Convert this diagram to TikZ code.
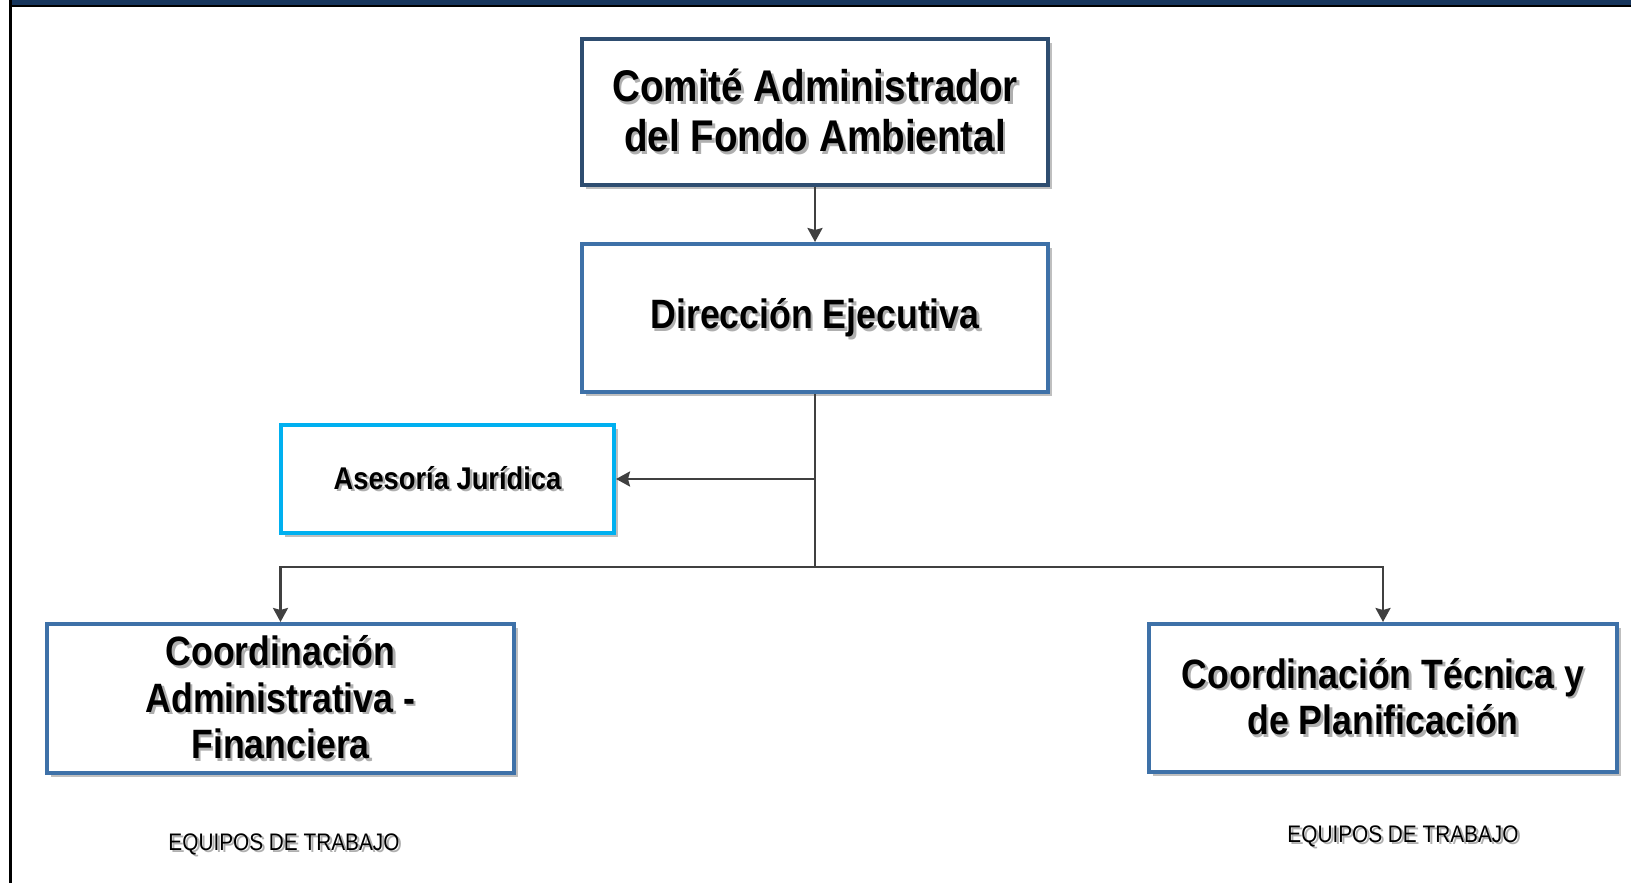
\documentclass[tikz,border=0pt]{standalone}
\usepackage{fontspec}
\setmainfont{Liberation Sans}
\newfontfamily\boxfont[FakeStretch=0.87]{Liberation Sans}
\usetikzlibrary{arrows.meta,shadows}

\definecolor{bandnavy}{RGB}{23,54,93}
\definecolor{topblue}{RGB}{46,77,112}
\definecolor{unitblue}{RGB}{62,113,168}
\definecolor{advcyan}{RGB}{0,176,240}
\definecolor{conngray}{RGB}{64,64,64}
\definecolor{txtshadow}{RGB}{175,175,175}

% texto con sombra
\newcommand\shd[1]{\raisebox{3pt}{\rlap{\hspace{2.5pt}\raisebox{-2.5pt}[0pt][0pt]{\color{txtshadow}#1}}#1}}

\begin{document}
\begin{tikzpicture}[x=1pt, y=-1pt]
  \useasboundingbox (0,0) rectangle (1631,883);  % Marco del organigrama.
  \fill [bandnavy] (11,0) rectangle (1631,5);
  \fill [black] (11,5) rectangle (1631,7.5);
  \fill [black] (9,0) rectangle (11.5,883);

  \tikzstyle{unit}=[rectangle, draw=unitblue, line width=4pt, fill=white, align=center,
    drop shadow={shadow xshift=4pt, shadow yshift=-4pt, fill=black!25, opacity=1},
    font=\boxfont\bfseries\fontsize{41}{46.5}\selectfont]
  \tikzstyle{topunit}=[unit, draw=topblue, font=\boxfont\bfseries\fontsize{44.4}{50}\selectfont]
  \tikzstyle{advisor}=[unit, draw=advcyan, font=\boxfont\bfseries\fontsize{31.4}{36}\selectfont]
  \tikzstyle{conn}=[draw=conngray, line width=2.5pt, -{Stealth[length=14pt, width=15pt, inset=2pt]}]
  \tikzstyle{team}=[inner sep=0pt, font=\boxfont\fontsize{23.9}{28}\selectfont]

  \node[topunit, minimum width=466pt, minimum height=145pt] (comite) at (815,112)
    {\shd{Comité Administrador}\\\shd{del Fondo Ambiental}};
  \node[unit, minimum width=466pt, minimum height=148pt] (direccion) at (815,318)
    {\shd{Dirección Ejecutiva}};
  \node[advisor, minimum width=333pt, minimum height=108pt] (asesoria) at (447.5,479)
    {\shd{Asesoría Jurídica}};
  \node[unit, minimum width=467pt, minimum height=149pt] (coordadm) at (280.5,698.5)
    {\shd{Coordinación}\\\shd{Administrativa -}\\\shd{Financiera}};
  \node[unit, minimum width=468pt, minimum height=148pt] (coordtec) at (1383,698)
    {\shd{Coordinación Técnica y}\\\shd{de Planificación}};

  \node[team] (teamadm) at (284,844) {\shd{EQUIPOS DE TRABAJO}};
  \node[team] (teamtec) at (1403,836) {\shd{EQUIPOS DE TRABAJO}};

  \coordinate (bus) at (815,567);

  \path[conn] (comite) -- (direccion);
  \draw[conngray, line width=2.5pt] (direccion.south) -- (bus);
  \path[conn] (direccion.south |- asesoria.east) -- (asesoria.east);
  \path[conn] (bus) -| (coordadm.north);
  \path[conn] (bus) -| (coordtec.north);
\end{tikzpicture}
\end{document}
